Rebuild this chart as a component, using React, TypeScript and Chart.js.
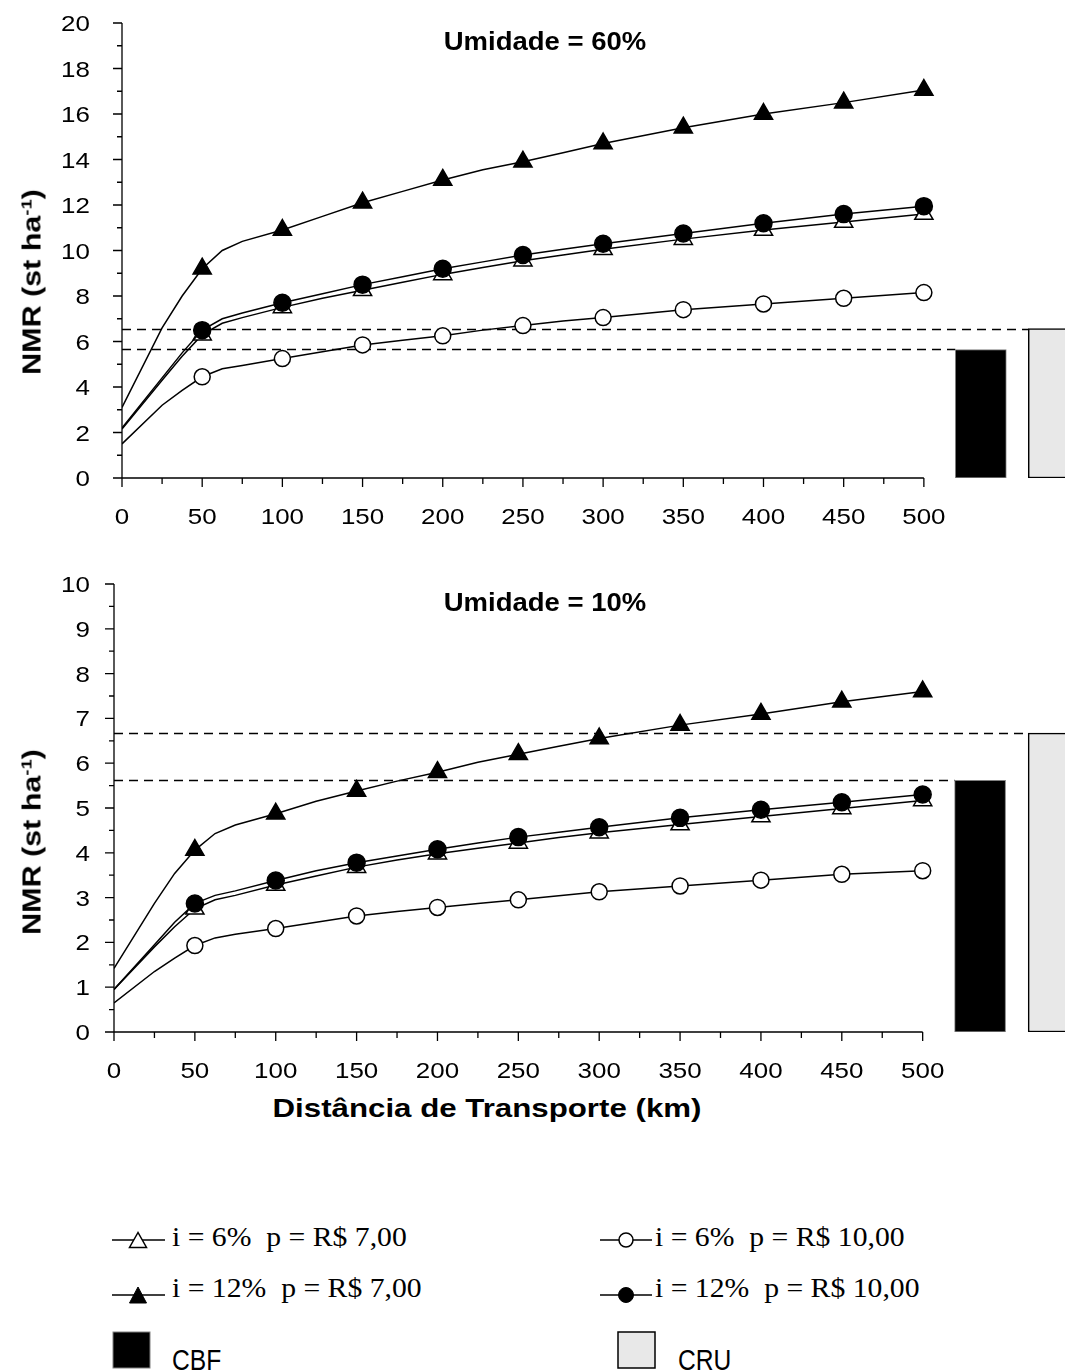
import React, { useEffect, useRef } from "react";
import { Chart, registerables } from "chart.js";

Chart.register(...registerables);

// ---------- data ----------
const distanceKm = [0, 25, 37.5, 50, 62.5, 75, 100, 125, 150, 175, 200, 225, 250, 275, 300, 350, 400, 450, 500];

// Umidade = 60%
const u60_i6_p7 = [2.15, 4.3, 5.35, 6.3, 6.8, 7.05, 7.5, 7.9, 8.25, 8.6, 8.95, 9.25, 9.55, 9.8, 10.05, 10.5, 10.9, 11.25, 11.6];
const u60_i12_p7 = [3.1, 6.6, 8.0, 9.2, 10.0, 10.4, 10.9, 11.5, 12.1, 12.6, 13.1, 13.55, 13.9, 14.3, 14.7, 15.4, 16.0, 16.5, 17.05];
const u60_i6_p10 = [1.5, 3.2, 3.85, 4.45, 4.8, 4.95, 5.25, 5.55, 5.85, 6.05, 6.25, 6.5, 6.7, 6.9, 7.05, 7.4, 7.65, 7.9, 8.15];
const u60_i12_p10 = [2.2, 4.4, 5.5, 6.5, 7.0, 7.25, 7.7, 8.1, 8.5, 8.85, 9.2, 9.5, 9.8, 10.05, 10.3, 10.75, 11.2, 11.6, 11.95];
const u60_bars = [5.65, 6.57]; // CBF, CRU

// Umidade = 10%
const u10_i6_p7 = [0.95, 1.9, 2.35, 2.75, 2.95, 3.05, 3.28, 3.48, 3.68, 3.84, 3.98, 4.1, 4.22, 4.34, 4.45, 4.63, 4.81, 4.99, 5.17];
const u10_i12_p7 = [1.42, 2.87, 3.54, 4.06, 4.43, 4.62, 4.87, 5.15, 5.38, 5.6, 5.8, 6.02, 6.2, 6.38, 6.55, 6.85, 7.1, 7.37, 7.6];
const u10_i6_p10 = [0.65, 1.35, 1.65, 1.93, 2.1, 2.18, 2.31, 2.45, 2.59, 2.69, 2.78, 2.87, 2.95, 3.04, 3.13, 3.26, 3.39, 3.52, 3.6];
const u10_i12_p10 = [0.95, 1.95, 2.45, 2.87, 3.05, 3.15, 3.38, 3.6, 3.78, 3.93, 4.08, 4.22, 4.35, 4.46, 4.57, 4.78, 4.96, 5.13, 5.3];
const u10_bars = [5.62, 6.67]; // CBF, CRU

const barLabels = ["CBF", "CRU"];
const seriesLabels = ["i = 6%  p = R$ 7,00", "i = 12%  p = R$ 7,00", "i = 6%  p = R$ 10,00", "i = 12%  p = R$ 10,00"];

// ticks
const xTickLabels = [0, 50, 100, 150, 200, 250, 300, 350, 400, 450, 500];
const xMinorTicks = [25, 75, 125, 175, 225, 275, 325, 375, 425, 475];
const u60_yTickLabels = [0, 2, 4, 6, 8, 10, 12, 14, 16, 18, 20];
const u60_yMinorTicks = [1, 3, 5, 7, 9, 11, 13, 15, 17, 19];
const u10_yTickLabels = [0, 1, 2, 3, 4, 5, 6, 7, 8, 9, 10];
const u10_yMinorTicks = [0.5, 1.5, 2.5, 3.5, 4.5, 5.5, 6.5, 7.5, 8.5, 9.5];

// ---------- layout constants ----------
const X_MAX = 588; // km at right edge of canvas
const BAR_SLOTS = [535.5, 581]; // km positions of CBF / CRU columns
const SANS = '"Liberation Sans", Arial, sans-serif';
const SERIF = '"Liberation Serif", "Times New Roman", serif';

const paperAxes = {
  id: "paperAxes",
  beforeDatasetsDraw(chart: any) {
    const { ctx, scales } = chart;
    const x0 = scales.x.getPixelForValue(0);
    ctx.save();
    ctx.strokeStyle = "#000";
    ctx.lineWidth = 1.5;
    ctx.setLineDash([9, 6]);
    chart.data.datasets.forEach((ds: any, i: number) => {
      if (ds.type !== "bar") return;
      const meta = chart.getDatasetMeta(i);
      meta.data.forEach((el: any) => {
        const p = el.getProps(["x", "y", "width"], true);
        const yy = Math.round(p.y) + 0.5;
        ctx.beginPath();
        ctx.moveTo(x0, yy);
        ctx.lineTo(p.x - p.width / 2, yy);
        ctx.stroke();
      });
    });
    ctx.restore();
  },
  afterDraw(chart: any, _args: any, o: any) {
    const { ctx, scales } = chart;
    const x = scales.x;
    const y = scales.y;
    const x0 = x.getPixelForValue(0);
    const x1 = x.getPixelForValue(500);
    const yb = y.getPixelForValue(0);
    const yt = y.getPixelForValue(y.max);
    ctx.save();
    ctx.strokeStyle = "#000";
    ctx.lineWidth = 1.3;
    ctx.beginPath();
    ctx.moveTo(x0, yb);
    ctx.lineTo(x1, yb);
    ctx.moveTo(x0, yb);
    ctx.lineTo(x0, yt);
    o.xLabels.forEach((v: number) => {
      const px = x.getPixelForValue(v);
      ctx.moveTo(px, yb);
      ctx.lineTo(px, yb + 9);
    });
    o.xMinor.forEach((v: number) => {
      const px = x.getPixelForValue(v);
      ctx.moveTo(px, yb);
      ctx.lineTo(px, yb + 6);
    });
    o.yLabels.forEach((v: number) => {
      const py = y.getPixelForValue(v);
      ctx.moveTo(x0, py);
      ctx.lineTo(x0 - 9, py);
    });
    o.yMinor.forEach((v: number) => {
      const py = y.getPixelForValue(v);
      ctx.moveTo(x0, py);
      ctx.lineTo(x0 - 5, py);
    });
    ctx.stroke();

    ctx.fillStyle = "#000";
    ctx.font = "22px " + SANS;
    ctx.textBaseline = "alphabetic";
    o.xLabels.forEach((v: number) => {
      const px = x.getPixelForValue(v);
      ctx.save();
      ctx.translate(px, yb + 46);
      ctx.scale(1.18, 1);
      ctx.textAlign = "center";
      ctx.fillText(String(v), 0, 0);
      ctx.restore();
    });
    o.yLabels.forEach((v: number) => {
      const py = y.getPixelForValue(v);
      ctx.save();
      ctx.translate(o.labelRight, py + 8);
      ctx.scale(1.18, 1);
      ctx.textAlign = "right";
      ctx.fillText(String(v), 0, 0);
      ctx.restore();
    });
    ctx.restore();
  },
};

type PanelProps = {
  top: number;
  height: number;
  areaTop: number;
  areaBottom: number;
  areaLeft: number;
  yMax: number;
  values: number[][];
  bars: number[];
  yLabels: number[];
  yMinor: number[];
};

const seriesStyle = [
  { style: "triangle", filled: false, radius: 10.5, order: 3 },
  { style: "triangle", filled: true, radius: 10.5, order: 1 },
  { style: "circle", filled: false, radius: 8, order: 4 },
  { style: "circle", filled: true, radius: 8.5, order: 2 },
];

function Panel(props: PanelProps) {
  const ref = useRef<HTMLCanvasElement>(null);
  useEffect(() => {
    const { height, areaTop, areaBottom, areaLeft, yMax, values, bars, yLabels, yMinor } = props;
    const lineSets = values.map((vals, si) => {
      const st = seriesStyle[si];
      return {
        type: "line",
        label: seriesLabels[si],
        data: distanceKm.map((d, i) => ({ x: d, y: vals[i] })),
        borderColor: "#000",
        borderWidth: 1.5,
        tension: 0,
        fill: false,
        pointStyle: st.style,
        pointRadius: (c: any) => {
          const v = c.raw && c.raw.x;
          return v > 0 && v % 50 === 0 ? st.radius : 0;
        },
        pointHoverRadius: 0,
        pointBackgroundColor: st.filled ? "#000" : "#fff",
        pointBorderColor: "#000",
        pointBorderWidth: 1.5,
        order: st.order,
      };
    });
    const barSets = bars.map((v, bi) => ({
      type: "bar",
      label: barLabels[bi],
      data: [{ x: BAR_SLOTS[bi], y: v }],
      backgroundColor: bi === 0 ? "#000" : "#e8e8e8",
      borderColor: bi === 0 ? "#808080" : "#000",
      borderWidth: bi === 0 ? 1 : 1.5,
      borderSkipped: false,
      barThickness: 51,
      grouped: false,
      order: 10,
    }));
    const chart = new Chart(ref.current as HTMLCanvasElement, {
      type: "line",
      data: { datasets: [...lineSets, ...barSets] as any },
      options: {
        animation: false,
        responsive: false,
        maintainAspectRatio: false,
        devicePixelRatio: 1,
        events: [],
        layout: { autoPadding: false, padding: { top: areaTop, left: 0, right: 0, bottom: 0 } },
        plugins: {
          legend: { display: false },
          tooltip: { enabled: false },
          paperAxes: {
            xLabels: xTickLabels,
            xMinor: xMinorTicks,
            yLabels,
            yMinor,
            labelRight: 90,
          },
        } as any,
        scales: {
          x: {
            type: "linear",
            min: 0,
            max: X_MAX,
            offset: false,
            grid: { display: false, drawTicks: false, offset: false },
            border: { display: false },
            ticks: { display: false },
            afterFit: (s: any) => {
              s.height = height - areaBottom;
              s.paddingLeft = 0;
              s.paddingRight = 0;
            },
          },
          y: {
            type: "linear",
            min: 0,
            max: yMax,
            grid: { display: false, drawTicks: false },
            border: { display: false },
            ticks: { display: false },
            afterFit: (s: any) => {
              s.width = areaLeft;
              s.paddingTop = 0;
              s.paddingBottom = 0;
            },
          },
        },
      } as any,
      plugins: [paperAxes as any],
    });
    return () => chart.destroy();
  }, []);
  return (
    <canvas
      ref={ref}
      width={1065}
      height={props.height}
      style={{ position: "absolute", left: 0, top: props.top, width: 1065, height: props.height }}
    />
  );
}

const titleStyle = (cx: number, baseline: number): React.CSSProperties => ({
  position: "absolute",
  left: cx,
  top: baseline - 0.8465 * 25,
  font: "bold 25px " + SANS,
  lineHeight: "25px",
  whiteSpace: "pre",
  transform: "translateX(-50%) scaleX(1.1)",
});

const yTitleStyle = (cx: number, cy: number): React.CSSProperties => ({
  position: "absolute",
  left: cx,
  top: cy,
  font: "bold 25px " + SANS,
  lineHeight: "25px",
  whiteSpace: "pre",
  transform: "translate(-50%, -50%) rotate(-90deg) scaleX(1.22)",
});

const legendText = (left: number, baseline: number): React.CSSProperties => ({
  position: "absolute",
  left,
  top: baseline - 0.8375 * 27,
  font: "27px " + SERIF,
  lineHeight: "27px",
  whiteSpace: "pre",
  transform: "scaleX(1.1)",
  transformOrigin: "left center",
});

const boxText = (left: number, baseline: number): React.CSSProperties => ({
  position: "absolute",
  left,
  top: baseline - 0.8465 * 30,
  font: "30px " + SANS,
  lineHeight: "30px",
  whiteSpace: "pre",
  transform: "scaleX(0.82)",
  transformOrigin: "left center",
});

function YTitle({ cx, cy }: { cx: number; cy: number }) {
  return (
    <div style={yTitleStyle(cx, cy)}>
      NMR (st ha<sup style={{ fontSize: "15px", verticalAlign: "9px", lineHeight: 0 }}>-1</sup>)
    </div>
  );
}

export default function App() {
  return (
    <div
      style={{
        position: "absolute",
        left: 0,
        top: 0,
        width: 1065,
        height: 1371,
        overflow: "hidden",
        background: "#fff",
        color: "#000",
      }}
    >
      <Panel
        top={0}
        height={540}
        areaTop={23}
        areaBottom={478}
        areaLeft={122}
        yMax={20}
        values={[u60_i6_p7, u60_i12_p7, u60_i6_p10, u60_i12_p10]}
        bars={u60_bars}
        yLabels={u60_yTickLabels}
        yMinor={u60_yMinorTicks}
      />
      <Panel
        top={560}
        height={530}
        areaTop={24}
        areaBottom={472}
        areaLeft={114}
        yMax={10}
        values={[u10_i6_p7, u10_i12_p7, u10_i6_p10, u10_i12_p10]}
        bars={u10_bars}
        yLabels={u10_yTickLabels}
        yMinor={u10_yMinorTicks}
      />

      <div style={titleStyle(545, 50)}>Umidade = 60%</div>
      <div style={titleStyle(545, 611)}>Umidade = 10%</div>
      <YTitle cx={32} cy={282} />
      <YTitle cx={32} cy={842} />
      <div style={{ ...titleStyle(487, 1117), transform: "translateX(-50%) scaleX(1.25)" }}>
        Distância de Transporte (km)
      </div>

      <svg
        width={1065}
        height={200}
        style={{ position: "absolute", left: 0, top: 1200 }}
        viewBox="0 1200 1065 200"
      >
        <g stroke="#000" strokeWidth={1.5}>
          <line x1={112} y1={1240} x2={165} y2={1240} />
          <line x1={600} y1={1240} x2={652} y2={1240} />
          <line x1={112} y1={1295} x2={165} y2={1295} />
          <line x1={600} y1={1295} x2={652} y2={1295} />
        </g>
        <polygon points="138,1232.5 129.5,1247.5 146.5,1247.5" fill="#fff" stroke="#000" strokeWidth={1.5} />
        <polygon points="138,1287 129.5,1303 146.5,1303" fill="#000" stroke="#000" strokeWidth={1} />
        <circle cx={626} cy={1240} r={7} fill="#fff" stroke="#000" strokeWidth={1.5} />
        <circle cx={626} cy={1295} r={7.5} fill="#000" stroke="#000" strokeWidth={1} />
        <rect x={113} y={1332} width={37} height={36} fill="#000" stroke="#808080" strokeWidth={1} />
        <rect x={618} y={1332} width={37} height={36} fill="#e8e8e8" stroke="#000" strokeWidth={1.5} />
      </svg>

      <div style={legendText(172, 1247)}>{seriesLabels[0]}</div>
      <div style={legendText(172, 1298)}>{seriesLabels[1]}</div>
      <div style={legendText(655, 1247)}>{seriesLabels[2]}</div>
      <div style={legendText(655, 1298)}>{seriesLabels[3]}</div>
      <div style={boxText(172, 1370)}>{barLabels[0]}</div>
      <div style={boxText(678, 1370)}>{barLabels[1]}</div>
    </div>
  );
}
